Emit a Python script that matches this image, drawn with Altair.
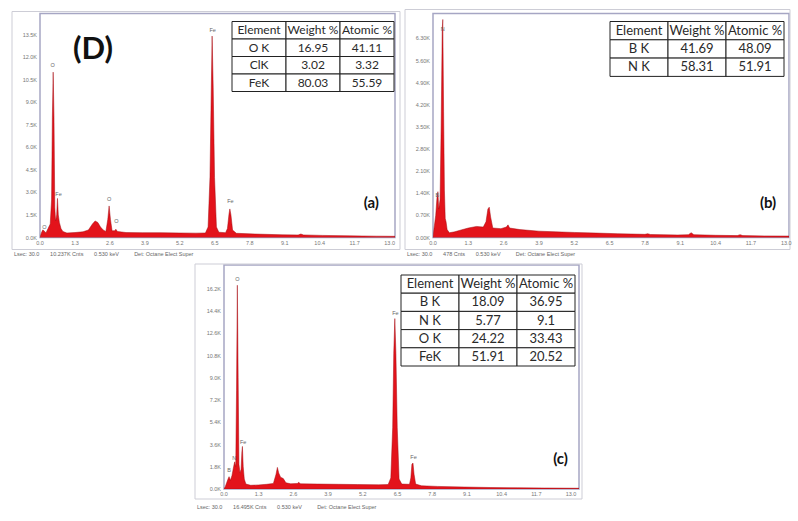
import altair as alt
import pandas as pd

# ---------------- data ----------------
x_ticks = [0.0, 1.3, 2.6, 3.9, 5.2, 6.5, 7.8, 9.1, 10.4, 11.7, 13.0]

# Panel (a)
a_kev = [0.00, 0.05, 0.10, 0.15, 0.22, 0.30, 0.38, 0.43, 0.46, 0.49, 0.52, 0.55, 0.58, 0.62, 0.65, 0.68,
         0.72, 0.78, 0.85, 1.00, 1.30, 1.60, 1.80, 1.95, 2.05, 2.15, 2.25, 2.35, 2.45, 2.52, 2.57, 2.62,
         2.68, 2.78, 2.82, 2.88, 3.20, 3.80, 4.50, 5.20, 5.80, 6.15, 6.25, 6.32, 6.37, 6.40, 6.44, 6.49,
         6.56, 6.65, 6.90, 6.97, 7.03, 7.06, 7.10, 7.16, 7.30, 8.00, 9.00, 9.60, 9.70, 9.80, 10.50, 11.50,
         12.50, 13.20]
a_cnt = [0, 300, 500, 450, 300, 600, 900, 2500, 8000, 11000, 8000, 2000, 1100, 1500, 2600, 1500,
         1000, 600, 400, 300, 330, 380, 500, 900, 1100, 1000, 700, 500, 400, 1200, 2100, 1200,
         450, 450, 550, 400, 330, 320, 320, 300, 290, 300, 700, 4000, 10000, 13400, 10000, 4000,
         700, 350, 320, 600, 1600, 1900, 1500, 500, 280, 230, 180, 170, 230, 170, 140, 110,
         90, 80]
a_yticks = [0, 1500, 3000, 4500, 6000, 7500, 9000, 10500, 12000, 13500]
a_pk_lbl = ["O", "O", "Fe", "O", "O", "Fe", "Fe"]
a_pk_kev = [0.16, 0.47, 0.69, 2.57, 2.84, 6.42, 7.08]
a_pk_cnt = [500, 11300, 2700, 2350, 900, 13600, 2250]
a_elem = ["O K", "ClK", "FeK"]
a_wt = ["16.95", "3.02", "80.03"]
a_at = ["41.11", "3.32", "55.59"]

# Panel (b)
b_kev = [0.00, 0.04, 0.10, 0.15, 0.18, 0.21, 0.26, 0.30, 0.34, 0.36, 0.39, 0.42, 0.45, 0.48, 0.52, 0.60,
         0.80, 1.00, 1.30, 1.60, 1.85, 1.95, 2.02, 2.07, 2.12, 2.20, 2.50, 2.70, 2.76, 2.82, 3.20, 3.90,
         4.50, 5.20, 6.00, 6.80, 7.80, 7.90, 8.00, 9.00, 9.40, 9.50, 9.60, 10.40, 11.20, 11.30, 11.40,
         12.20, 13.10]
b_cnt = [0, 300, 700, 1300, 1450, 900, 1200, 3500, 6600, 6900, 4000, 1500, 600, 500, 250, 150,
         180, 230, 300, 350, 330, 500, 900, 960, 650, 300, 280, 330, 400, 300, 250, 200,
         180, 160, 140, 120, 100, 120, 95, 80, 90, 150, 90, 70, 60, 90, 60,
         50, 45]
b_yticks = [0, 700, 1400, 2100, 2800, 3500, 4200, 4900, 5600, 6300]
b_pk_lbl = ["B", "N"]
b_pk_kev = [0.16, 0.36]
b_pk_cnt = [1250, 6500]
b_elem = ["B K", "N K"]
b_wt = ["41.69", "58.31"]
b_at = ["48.09", "51.91"]

# Panel (c)
c_kev = [0.00, 0.05, 0.10, 0.15, 0.19, 0.24, 0.30, 0.36, 0.40, 0.44, 0.47, 0.50, 0.53, 0.56, 0.60, 0.64,
         0.67, 0.69, 0.72, 0.76, 0.82, 1.00, 1.30, 1.60, 1.85, 1.95, 2.00, 2.05, 2.12, 2.22, 2.32, 2.50,
         2.75, 2.80, 2.86, 3.50, 4.30, 5.00, 5.80, 6.15, 6.25, 6.32, 6.36, 6.40, 6.44, 6.49, 6.56, 6.66,
         6.95, 7.00, 7.04, 7.08, 7.12, 7.18, 7.40, 8.00, 9.00, 10.00, 11.00, 12.00, 13.30]
c_cnt = [0, 200, 500, 800, 1000, 700, 1100, 1800, 2200, 1800, 8000, 16500, 9000, 2000, 1300, 1600,
         3000, 3450, 1800, 800, 400, 300, 330, 380, 450, 1200, 1750, 1300, 950, 850, 500, 420,
         450, 550, 420, 400, 380, 360, 340, 360, 900, 5000, 11000, 13800, 11000, 5000, 800, 400,
         380, 900, 2000, 2100, 1200, 400, 260, 210, 160, 120, 100, 80, 60]
c_yticks = [0, 1800, 3600, 5400, 7200, 9000, 10800, 12600, 14400, 16200]
c_pk_lbl = ["B", "N", "O", "Fe", "Fe", "Fe"]
c_pk_kev = [0.19, 0.38, 0.50, 0.72, 6.42, 7.10]
c_pk_cnt = [1300, 2300, 16800, 3600, 14000, 2350]
c_elem = ["B K", "N K", "O K", "FeK"]
c_wt = ["18.09", "5.77", "24.22", "51.91"]
c_at = ["36.95", "9.1", "33.43", "20.52"]

tbl_header = ["Element", "Weight %", "Atomic %"]

RED = "#e3131b"
EDGE = "#a50d12"
FONT = "Lato"
TICKFONT = "Liberation Sans"


def table_df(elem, wt, at):
    rows = [tbl_header] + [[e, w, a] for e, w, a in zip(elem, wt, at)]
    recs = []
    for r, row in enumerate(rows):
        for c, t in enumerate(row):
            recs.append({"r": r, "r2": r + 1, "c": c, "c2": c + 1, "cm": c + 0.5, "rm": r + 0.5, "t": t})
    return pd.DataFrame(recs)


def panel(kev, cnt, yticks, pk_lbl, pk_kev, pk_cnt, elem, wt, at, xdom, ydom, ydec,
          w, h, frame, footer, foot_y, tgeo, tfont, big_lbl, big_x, big_y, extra=None):
    spec = pd.DataFrame({"keV": kev, "cnt": cnt})
    peaks = pd.DataFrame({"lbl": pk_lbl, "keV": pk_kev, "cnt": pk_cnt})
    xs = alt.Scale(domain=xdom, nice=False, zero=False)
    ys = alt.Scale(domain=ydom, nice=False, zero=False)

    fr = alt.Chart(pd.DataFrame({"v": [0]})).mark_rect(
        fillOpacity=0, stroke="#cdcdd6", strokeWidth=1
    ).encode(x=alt.value(frame[0]), x2=alt.value(frame[1]), y=alt.value(frame[2]), y2=alt.value(frame[3]))

    area = alt.Chart(spec).mark_area(
        fill=RED, stroke=EDGE, strokeWidth=0.5, interpolate="linear", clip=True
    ).encode(x=alt.X("keV:Q", scale=xs, axis=None), y=alt.Y("cnt:Q", scale=ys, axis=None))

    # tick labels (drawn through the shared scales)
    xl = alt.Chart(pd.DataFrame({"v": x_ticks})).transform_calculate(
        lab="format(datum.v, '.1f')"
    ).mark_text(fontSize=5.5, color="#777", font=TICKFONT, baseline="top", align="center").encode(
        x=alt.X("v:Q"), y=alt.value(h + 3), text="lab:N")
    yl = alt.Chart(pd.DataFrame({"v": yticks})).transform_calculate(
        lab="format(datum.v/1000, '.%df') + 'K'" % ydec
    ).mark_text(fontSize=5.5, color="#777", font=TICKFONT, baseline="middle", align="right").encode(
        y=alt.Y("v:Q"), x=alt.value(-3), text="lab:N")
    foot = alt.Chart(pd.DataFrame({"t": [footer]})).mark_text(
        fontSize=5.5, color="#666", font=TICKFONT, baseline="top", align="left"
    ).encode(x=alt.value(frame[0] + 2), y=alt.value(h + foot_y), text="t:N")

    pk = alt.Chart(peaks).mark_text(
        fontSize=5.5, color="#666", baseline="bottom", font=TICKFONT
    ).encode(x="keV:Q", y="cnt:Q", text="lbl:N")

    big = alt.Chart(pd.DataFrame({"v": [0]})).mark_text(
        fontSize=15, fontWeight="bold", font=FONT, color="#111", baseline="middle", align="center"
    ).encode(x=alt.datum(big_x), y=alt.datum(big_y), text=alt.value(big_lbl))

    layers = [fr, area, xl, yl, foot, pk, big]
    if extra is not None:
        layers.append(extra)
    spec_layer = alt.layer(*layers)

    left, top, cw, rh = tgeo
    tx = alt.Scale(domain=[-left / cw, (w - left) / cw], nice=False, zero=False)
    ty = alt.Scale(domain=[-top / rh, (h - top) / rh], nice=False, zero=False, reverse=True)
    tdf = table_df(elem, wt, at)
    trect = alt.Chart(tdf).mark_rect(fill="white", stroke="#222", strokeWidth=1).encode(
        x=alt.X("c:Q", scale=tx, axis=None), x2="c2:Q",
        y=alt.Y("r:Q", scale=ty, axis=None), y2="r2:Q")
    ttext = alt.Chart(tdf).mark_text(fontSize=tfont, font=FONT, color="#2a2a2a", baseline="middle").encode(
        x=alt.X("cm:Q", scale=tx, axis=None), y=alt.Y("rm:Q", scale=ty, axis=None), text="t:N")
    table_layer = alt.layer(trect, ttext)

    return alt.layer(spec_layer, table_layer).resolve_scale(x="independent", y="independent").properties(
        width=w, height=h)


dee = alt.Chart(pd.DataFrame({"v": [0]})).mark_text(
    fontSize=31, fontWeight="bold", font=FONT, color="#111", baseline="middle", align="center"
).encode(x=alt.datum(1.97), y=alt.datum(12500), text=alt.value("(D)"))

NB = "\u00a0"
pa = panel(a_kev, a_cnt, a_yticks, a_pk_lbl, a_pk_kev, a_pk_cnt, a_elem, a_wt, a_at,
           [0, 13.2], [0, 14900], 1, 355, 224,
           (-28, 360, -2, 236),
           "Lsec: 30.0" + NB * 7 + "10.237K Cnts" + NB * 7 + "0.530 keV" + NB * 10 + "Det: Octane Elect Super",
           14, (192, 8, 54, 17.5), 12, "(a)", 12.32, 2290, extra=dee)

pb = panel(b_kev, b_cnt, b_yticks, b_pk_lbl, b_pk_kev, b_pk_cnt, b_elem, b_wt, b_at,
           [0, 13.1], [0, 7090], 2, 356, 224,
           (-28, 357, -4, 236),
           "Lsec: 30.0" + NB * 7 + "478 Cnts" + NB * 7 + "0.530 keV" + NB * 10 + "Det: Octane Elect Super",
           14, (177, 8, 58, 18.3), 13, "(b)", 12.33, 1080)

pc = panel(c_kev, c_cnt, c_yticks, c_pk_lbl, c_pk_kev, c_pk_cnt, c_elem, c_wt, c_at,
           [0, 13.3], [0, 18140], 1, 355, 224,
           (-29, 358, -1, 234),
           "Lsec: 30.0" + NB * 7 + "16.495K Cnts" + NB * 7 + "0.530 keV" + NB * 10 + "Det: Octane Elect Super",
           16, (177, 10, 58, 18.2), 13, "(c)", 12.61, 2390)

spacer = alt.Chart(pd.DataFrame({"v": [0]})).mark_point(size=0, opacity=0).encode(
    x=alt.value(0), y=alt.value(0)
).properties(width=171.5, height=224, view=alt.ViewBackground(strokeOpacity=0))

top_row = alt.hconcat(pa, pb, spacing=38, bounds="flush")
bot_row = alt.hconcat(spacer, pc, spacing=12, bounds="flush")

chart = alt.vconcat(top_row, bot_row, spacing=3.5).properties(
    padding={"left": 10, "top": 7.5, "right": 0, "bottom": 0},
    background="white",
).configure_view(
    stroke="#a6a6c4", strokeWidth=1.5
)

chart.save("out.html", embed_options={"renderer": "svg", "actions": False})
